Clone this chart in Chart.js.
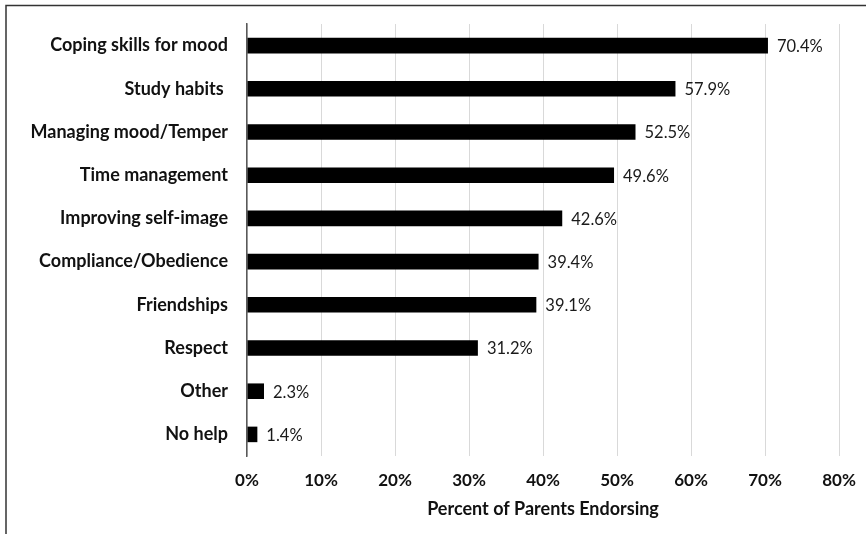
<!DOCTYPE html>
<html>
<head>
<meta charset="utf-8">
<script src="https://cdn.jsdelivr.net/npm/chart.js@4"></script>
<style>
    html, body { margin: 0; padding: 0; background: #fff; }
    #wrap { width: 866px; height: 534px; position: relative; }
</style>
</head>
<body>
<div id="wrap"><canvas id="chart"></canvas></div>
<script>
const categories = ["Coping skills for mood", "Study habits ", "Managing mood/Temper", "Time management",
    "Improving self-image", "Compliance/Obedience", "Friendships", "Respect", "Other", "No help"];
const percents = [70.4, 57.9, 52.5, 49.6, 42.6, 39.4, 39.1, 31.2, 2.3, 1.4];
const xTicks = [0, 10, 20, 30, 40, 50, 60, 70, 80];

// thin frame on top and left, like the source picture
const framePlugin = {
    id: 'frame',
    beforeDraw(chart){
        let ctx = chart.ctx;
        ctx.save();
        ctx.strokeStyle = '#333';
        ctx.lineWidth = 1.5;
        ctx.beginPath();
        ctx.moveTo(866, 5.5);
        ctx.lineTo(6, 5.5);
        ctx.lineTo(6, 534);
        ctx.stroke();
        ctx.restore();
    }
};

const valueLabels = {
    id: 'valueLabels',
    afterDatasetsDraw(chart){
        let ctx = chart.ctx;
        let meta = chart.getDatasetMeta(0);
        ctx.save();
        ctx.font = '16.5px Lato';
        ctx.fillStyle = '#1a1a1a';
        ctx.textAlign = 'left';
        ctx.textBaseline = 'middle';
        meta.data.forEach((bar, i)=>{
            ctx.fillText(percents[i].toFixed(1) + '%', bar.x + 9, bar.y + 1);
        });
        ctx.restore();
    }
};

new Chart(document.getElementById('chart'), {
    type: 'bar',
    data: {
        labels: categories,
        datasets: [{
            data: percents,
            backgroundColor: '#000',
            barPercentage: 0.36,
            categoryPercentage: 1
        }]
    },
    plugins: [framePlugin, valueLabels],
    options: {
        indexAxis: 'y',
        responsive: true,
        maintainAspectRatio: false,
        animation: false,
        layout: { padding: { top: 24, right: 27, bottom: 14, left: 0 } },
        scales: {
            x: {
                min: 0,
                max: 80,
                afterBuildTicks: (axis) => { axis.ticks = xTicks.map(v => ({ value: v })); },
                afterFit: (axis) => {
                    axis.height = 64;
                    axis.paddingLeft = 0;
                    axis.paddingRight = 0;
                },
                grid: { color: '#d9d9d9', lineWidth: 1, drawTicks: false },
                border: { display: false },
                ticks: {
                    padding: 14,
                    color: '#111',
                    font: { family: 'Lato', size: 17, weight: 'bold' },
                    callback: (v) => v + '%'
                },
                title: {
                    display: true,
                    text: 'Percent of Parents Endorsing',
                    color: '#111',
                    font: { family: 'Lato', size: 18, weight: 'bold' },
                    padding: { top: 0, bottom: 0 }
                }
            },
            y: {
                afterFit: (axis) => {
                    axis.width = 247;
                    axis.paddingTop = 0;
                    axis.paddingBottom = 0;
                },
                grid: { display: false, drawTicks: false },
                border: { display: true, color: '#595959', width: 1.5 },
                ticks: {
                    padding: 19,
                    color: '#111',
                    font: { family: 'Lato', size: 18, weight: 'bold' }
                }
            }
        },
        plugins: {
            legend: { display: false },
            tooltip: { enabled: false }
        }
    }
});
</script>
</body>
</html>
